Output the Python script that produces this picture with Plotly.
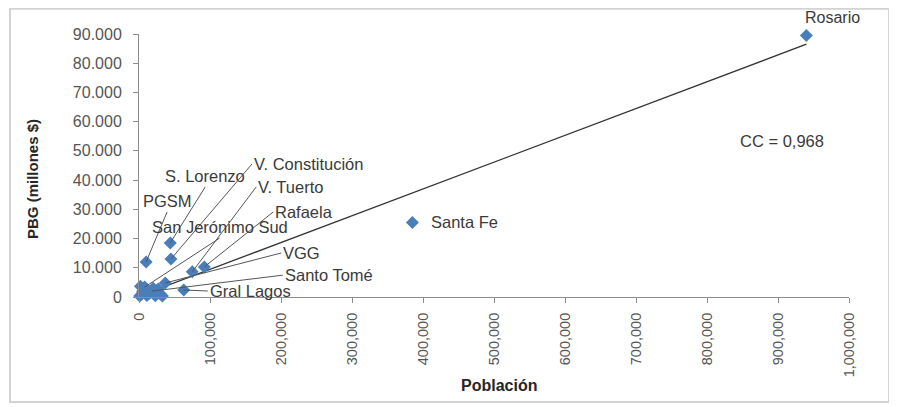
import plotly.graph_objects as go

# Ciudades etiquetadas (población, PBG en millones $)
ciudades = ["Rosario", "Santa Fe", "PGSM", "S. Lorenzo", "V. Constitución", "V. Tuerto",
            "Rafaela", "San Jerónimo Sud", "VGG", "Santo Tomé", "Gral Lagos"]
poblacion = [940000, 385000, 10000, 44000, 45000, 75000, 92000, 8000, 37000, 18000, 63000]
pbg = [89500, 25500, 12000, 18500, 13000, 8600, 10300, 3400, 4800, 2000, 2400]

# resto de localidades sin etiqueta
otras_pob = [1000, 2000, 5000, 11000, 15000, 23000, 27000, 30000, 33000, 4000, 20000]
otras_pbg = [300, 3700, 2000, 500, 1300, 400, 2700, 1000, 300, 1000, 3000]

# recta de tendencia
trend_x = [0, 940000]
trend_y = [300, 86500]

x_ticks = [0, 100000, 200000, 300000, 400000, 500000, 600000, 700000, 800000, 900000, 1000000]
x_ticktext = ["0", "100,000", "200,000", "300,000", "400,000", "500,000", "600,000",
              "700,000", "800,000", "900,000", "1,000,000"]
y_ticks = [0, 10000, 20000, 30000, 40000, 50000, 60000, 70000, 80000, 90000]
y_ticktext = ["0", "10.000", "20.000", "30.000", "40.000", "50.000", "60.000",
              "70.000", "80.000", "90.000"]

cc_text = "CC = 0,968"

FONT = "Liberation Sans, Arial, sans-serif"
BLUE = "#4a7ebb"
TXT = "#3a3a3a"

fig = go.Figure()

fig.add_trace(go.Scatter(
    x=trend_x, y=trend_y, mode="lines",
    line=dict(color="#333333", width=1.3),
    showlegend=False, hoverinfo="skip",
))
fig.add_trace(go.Scatter(
    x=otras_pob + poblacion, y=otras_pbg + pbg, mode="markers",
    marker=dict(symbol="diamond", size=10, color=BLUE),
    cliponaxis=False, showlegend=False,
))

# posición de las etiquetas (offset en px respecto del punto)
leaders = {
    "V. Constitución": (81, -95, "left", "middle"),
    "S. Lorenzo": (35, -56, "center", "bottom"),
    "V. Tuerto": (64, -85, "left", "middle"),
    "Rafaela": (69, -55, "left", "middle"),
    "PGSM": (21, -50, "center", "bottom"),
    "San Jerónimo Sud": (75, -49, "center", "bottom"),
    "VGG": (116, -30, "left", "middle"),
    "Santo Tomé": (131, -16, "left", "middle"),
    "Gral Lagos": (24, 1, "left", "middle"),
}

for nombre, px, py in zip(ciudades, poblacion, pbg):
    if nombre in leaders:
        ax, ay, xa, ya = leaders[nombre]
        fig.add_annotation(
            x=px, y=py, text=nombre, showarrow=True, arrowhead=0,
            arrowwidth=1, arrowcolor="#555555", ax=ax, ay=ay,
            xanchor=xa, yanchor=ya, standoff=0,
            font=dict(family=FONT, size=16.5, color=TXT),
        )
    elif nombre == "Rosario":
        fig.add_annotation(x=px, y=py, text=nombre, showarrow=False,
                           xanchor="center", yanchor="middle",
                           xshift=26, yshift=18,
                           font=dict(family=FONT, size=16, color=TXT))
    else:
        fig.add_annotation(x=px, y=py, text=nombre, showarrow=False,
                           xanchor="left", yanchor="middle", xshift=17,
                           font=dict(family=FONT, size=16.5, color=TXT))

fig.add_annotation(x=0.9056, y=0.593, xref="paper", yref="paper", text=cc_text,
                   xanchor="center", yanchor="middle",
                   showarrow=False, font=dict(family=FONT, size=16.5, color=TXT))

# títulos de ejes
fig.add_annotation(x=0.507, y=-0.335, xref="paper", yref="paper", text="<b>Población</b>",
                   xanchor="center", yanchor="middle",
                   showarrow=False, font=dict(family=FONT, size=16, color="#262626"))
fig.add_annotation(x=-0.1493, y=0.4487, xref="paper", yref="paper",
                   text="<b>PBG (millones $)</b>", textangle=-90,
                   xanchor="center", yanchor="middle",
                   showarrow=False, font=dict(family=FONT, size=15, color="#262626"))

# marco del gráfico
fig.add_shape(type="rect", xref="paper", yref="paper",
              x0=-0.1817, x1=1.0563, y0=-0.399, y1=1.096,
              line=dict(color="#d3d3d3", width=2))

fig.update_xaxes(
    range=[0, 1000000], tickvals=x_ticks, ticktext=x_ticktext, tickangle=-90,
    showgrid=False, zeroline=False, showline=True, linecolor="#8c8c8c", linewidth=1,
    ticks="outside", ticklen=5, tickcolor="#8c8c8c", ticklabelstandoff=4,
    tickfont=dict(family=FONT, size=14.5, color="#555555"),
)
fig.update_yaxes(
    range=[0, 90000], tickvals=y_ticks, ticktext=y_ticktext,
    showgrid=False, zeroline=False, showline=True, linecolor="#8c8c8c", linewidth=1,
    ticks="outside", ticklen=5, tickcolor="#8c8c8c", ticklabelstandoff=8,
    tickfont=dict(family=FONT, size=16, color="#555555"),
)

# la página deja 8px de margen en el body
fig.update_layout(
    width=889, height=399,
    margin=dict(l=131, r=48, t=26, b=110),
    paper_bgcolor="white", plot_bgcolor="white",
    showlegend=False,
)

fig.write_html("out.html")
